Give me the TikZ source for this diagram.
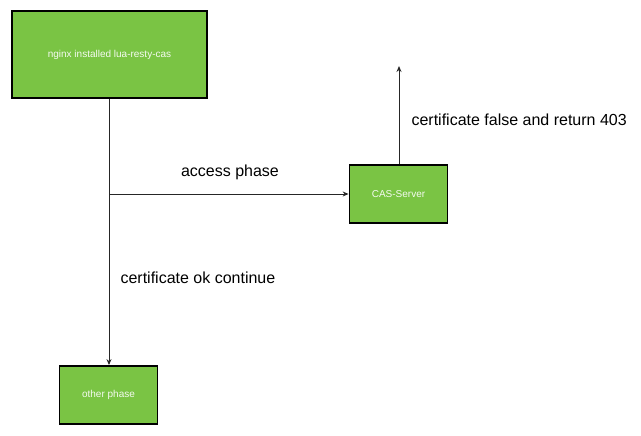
\documentclass[tikz,border=0pt]{standalone}
\usepackage{fontspec}
\setmainfont{Liberation Sans}
\usetikzlibrary{arrows.meta}
\definecolor{boxgreen}{RGB}{122,196,68}
\begin{document}
\begin{tikzpicture}[x=1pt,y=-1pt,
  box/.style={draw=black,line width=1.8pt,fill=boxgreen,inner sep=0pt,text=white!92!boxgreen,font=\fontsize{10}{12}\selectfont},
  conn/.style={draw=black!85,line width=1pt,-{Stealth[length=6pt,width=5pt]}},
  lbl/.style={font=\fontsize{16}{18}\selectfont,text=black}]
\useasboundingbox (0,0) rectangle (641,436);
\node[box,minimum width=195pt,minimum height=87pt] (nginx) at (109.5,54.5) {nginx installed lua-resty-cas};
\node[box,minimum width=98pt,minimum height=58pt] (cas) at (398.5,194) {CAS-Server};
\node[box,minimum width=98pt,minimum height=58pt] (other) at (108.5,395) {other phase};
\coordinate (split) at (109,194);
\coordinate (up) at (399,66);
\draw[conn] (nginx.south -| split) -- (other.north -| split);
\draw[conn] (split) -- (cas.west);
\draw[conn] (cas.north -| up) -- (up);
\node[lbl] (lab1) at (230,172) {access phase};
\node[lbl,anchor=west] (lab2) at (117,278) {certificate ok continue};
\node[lbl,anchor=west] (lab3) at (408,120) {certificate false and return 403};
\end{tikzpicture}
\end{document}
